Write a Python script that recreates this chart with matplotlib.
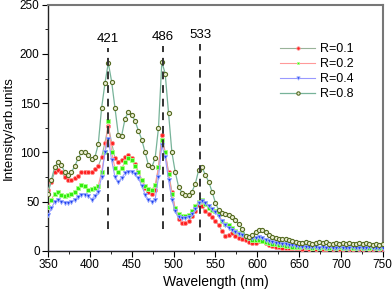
import numpy as np
import matplotlib
matplotlib.use("Agg")
import matplotlib.pyplot as plt

plt.rcParams['font.family'] = ['Liberation Sans', 'DejaVu Sans']

wavelength = np.arange(350, 751, 4)

r01 = [62, 70, 80, 82, 80, 75, 72, 72, 74, 76, 80, 80, 80, 80, 83, 86, 95, 110, 127, 110,
       94, 90, 92, 95, 97, 94, 88, 80, 72, 64, 60, 58, 62, 85, 118, 100, 80, 60, 42, 32,
       28, 28, 30, 35, 40, 46, 45, 40, 37, 34, 30, 26, 20, 15, 16, 18, 15, 13, 12, 11,
       9, 8, 8, 10, 10, 8, 6, 5, 4, 4, 3, 3, 3, 3, 3, 3, 2, 3, 2, 3,
       2, 3, 2, 2, 3, 2, 3, 2, 2, 3, 2, 2, 3, 2, 2, 3, 2, 2, 3, 2, 2]
r02 = [44, 52, 58, 60, 57, 56, 57, 58, 60, 64, 67, 66, 62, 63, 64, 66, 80, 100, 132, 100,
       84, 80, 84, 90, 94, 92, 86, 80, 72, 66, 63, 62, 67, 85, 113, 100, 78, 58, 43, 37,
       35, 35, 36, 40, 45, 50, 52, 47, 43, 41, 40, 37, 30, 27, 26, 23, 20, 18, 17, 15,
       13, 11, 11, 11, 10, 9, 8, 7, 7, 6, 6, 5, 5, 4, 4, 4, 5, 4, 4, 3,
       4, 3, 4, 3, 3, 4, 3, 4, 3, 3, 4, 3, 3, 4, 3, 3, 3, 4, 3, 3, 4]
r04 = [36, 43, 50, 52, 50, 49, 49, 50, 52, 55, 57, 57, 56, 52, 56, 60, 75, 100, 114, 92,
       75, 70, 74, 79, 80, 80, 78, 74, 66, 57, 52, 50, 52, 75, 107, 95, 72, 52, 40, 34,
       33, 33, 34, 37, 42, 48, 51, 48, 45, 42, 39, 35, 30, 26, 23, 21, 19, 17, 16, 14,
       13, 13, 13, 14, 13, 11, 10, 9, 8, 8, 7, 7, 6, 6, 5, 5, 4, 4, 4, 4,
       4, 3, 4, 3, 4, 3, 3, 4, 3, 3, 3, 4, 3, 3, 3, 3, 4, 3, 3, 3, 3]
r08 = [58, 72, 85, 90, 87, 80, 77, 80, 86, 94, 100, 100, 97, 93, 95, 108, 145, 170, 191, 172,
       145, 118, 117, 134, 141, 138, 132, 122, 113, 100, 87, 85, 94, 125, 192, 180, 140, 100, 80, 65,
       59, 57, 57, 60, 68, 82, 85, 77, 70, 60, 49, 41, 38, 37, 36, 34, 31, 27, 22, 15,
       14, 16, 19, 21, 21, 19, 16, 14, 13, 12, 12, 12, 11, 10, 9, 8, 8, 9, 8, 7,
       8, 9, 8, 9, 7, 7, 8, 7, 8, 7, 8, 7, 7, 8, 7, 8, 7, 6, 7, 6, 7]

labels = ['R=0.1', 'R=0.2', 'R=0.4', 'R=0.8']
peak_x = [422, 487.5, 532]
peak_labels = ['421', '486', '533']
peak_bottom = [22, 22, 10]
peak_top = [206, 208, 210]

fig = plt.figure(figsize=(3.92, 2.90), dpi=100)
ax = fig.add_axes([0.1225, 0.1355, 0.854, 0.848])

ax.axhline(0, color='#9999ff', lw=1.0, zorder=1)

ax.plot(wavelength, r01, color='#99b399', lw=0.8, marker='o', ms=3.0,
        mfc='#ff2020', mec='#ff9090', mew=0.6, label=labels[0], zorder=3)
ax.plot(wavelength, r02, color='#ff9999', lw=0.8, marker='s', ms=2.6,
        mfc='#33ee11', mec='#aaff88', mew=0.6, label=labels[1], zorder=3)
ax.plot(wavelength, r04, color='#9999ff', lw=0.8, marker='v', ms=3.0,
        mfc='#2244ee', mec='#99aaff', mew=0.6, label=labels[2], zorder=3)
ax.plot(wavelength, r08, color='#77b399', lw=0.9, marker='o', ms=3.0,
        mfc='#e8ecd0', mec='#556b22', mew=0.8, label=labels[3], zorder=4)

for px, lab, b, t in zip(peak_x, peak_labels, peak_bottom, peak_top):
    ax.plot([px, px], [b, t], color='#333333', lw=1.4, ls=(0, (4, 3)), zorder=5)
    ax.text(px, t + 3, lab, ha='center', va='bottom', fontsize=9.5)

ax.set_xlim(350, 750)
ax.set_ylim(0, 250)
ax.set_xticks(np.arange(350, 751, 50))
ax.set_xticks(np.arange(350, 751, 25), minor=True)
ax.set_yticks(np.arange(0, 251, 50))
ax.set_yticks(np.arange(0, 251, 25), minor=True)
ax.tick_params(which='major', direction='out', length=4, width=0.8, labelsize=8.5, pad=2)
ax.tick_params(which='minor', direction='out', length=2.5, width=0.6)

for s in ['left', 'bottom']:
    ax.spines[s].set_color('#222222')
    ax.spines[s].set_linewidth(1.0)
for s in ['top', 'right']:
    ax.spines[s].set_color('#777777')
    ax.spines[s].set_linewidth(1.5)

ax.set_xlabel('Wavelength (nm)', fontsize=10, labelpad=2.5)
ax.set_ylabel('Intensity/arb.units', fontsize=9.5, labelpad=4)

leg = ax.legend(loc='upper left', bbox_to_anchor=(0.66, 0.89), frameon=False,
                fontsize=9, handlelength=2.8, handletextpad=0.4, labelspacing=0.25,
                markerscale=0.8)

fig.savefig('out.png', dpi=100)
